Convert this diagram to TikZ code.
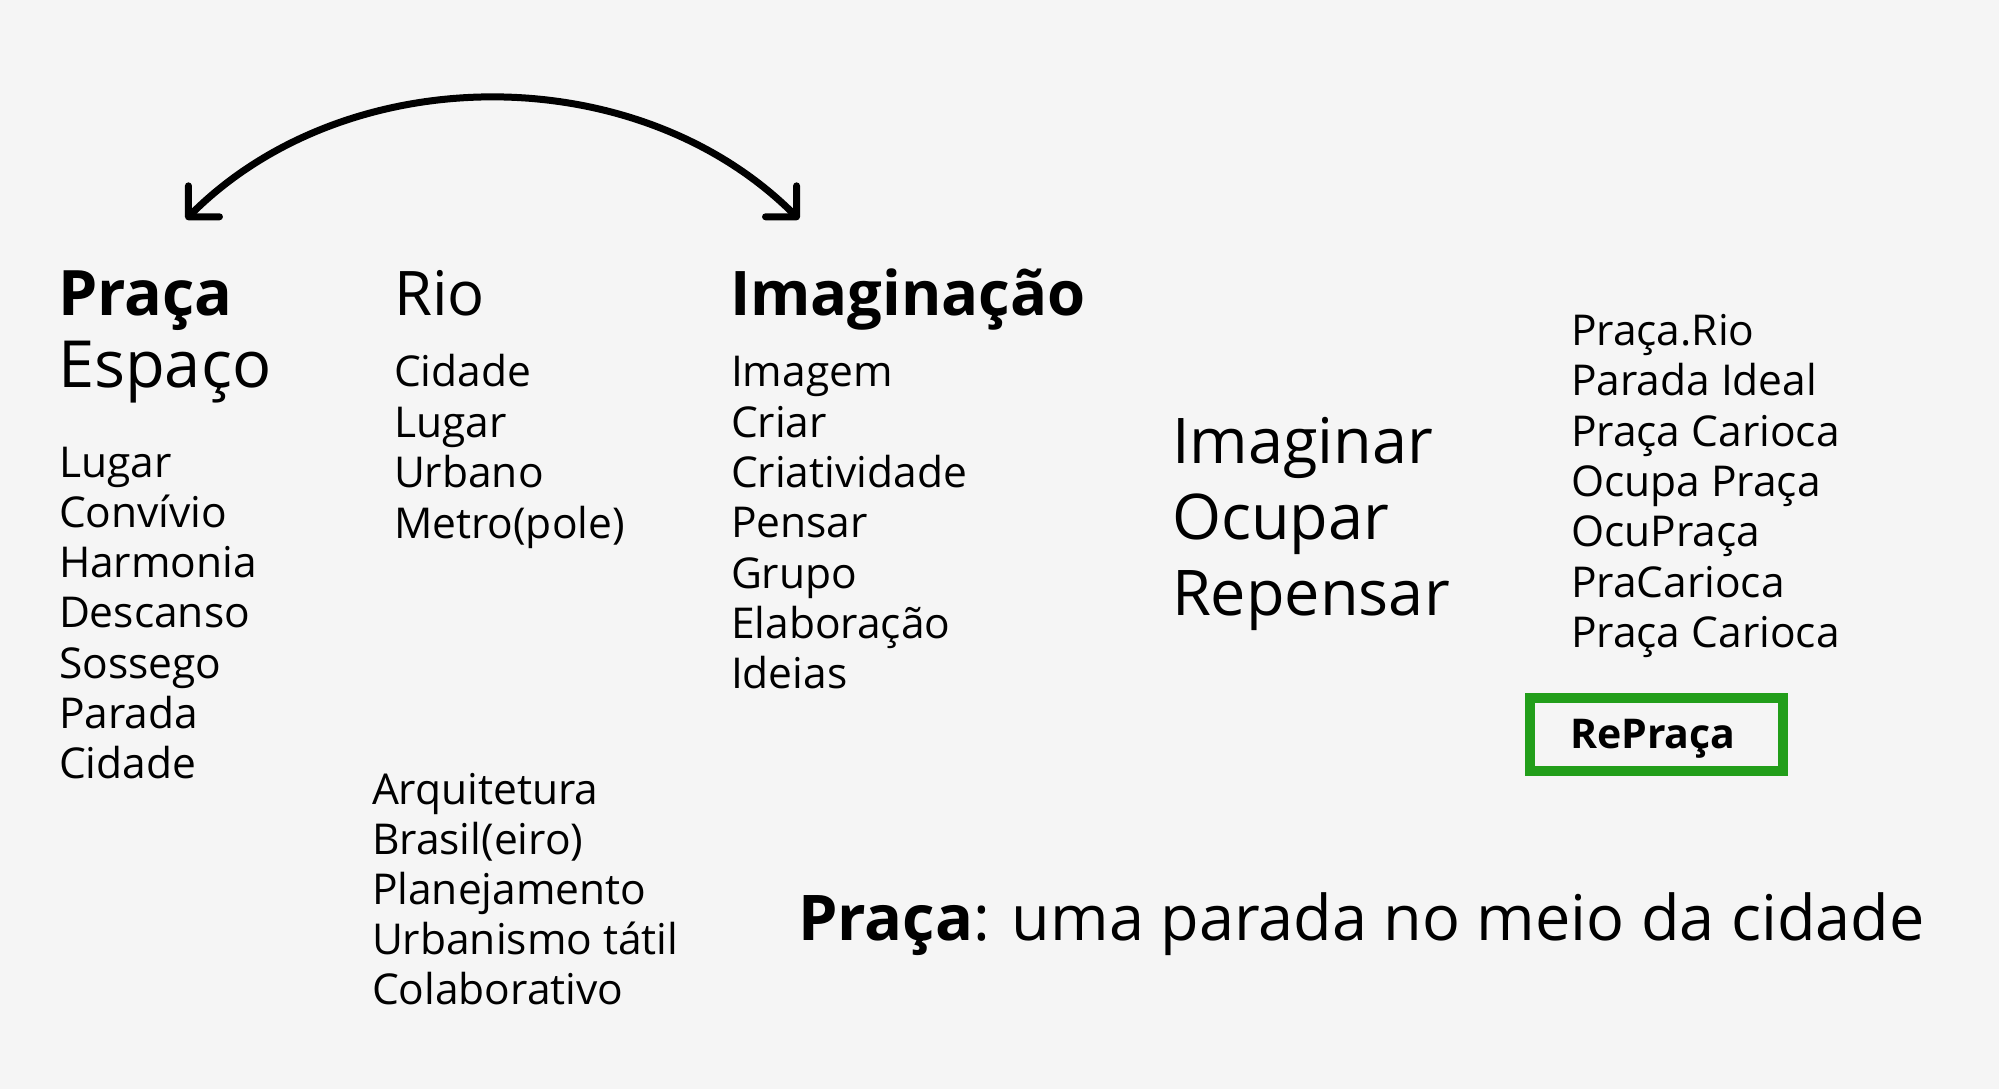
\documentclass[tikz,border=0pt]{standalone}
\usepackage{fontspec}
\setmainfont{Open Sans}
\usetikzlibrary{arrows.meta}
\definecolor{bg}{HTML}{F5F5F5}
\definecolor{boxgreen}{HTML}{229E1A}
\begin{document}
\begin{tikzpicture}[x=1pt,y=-1pt,
  word/.style={anchor=base west, inner sep=0pt, outer sep=0pt, text=black},
  lst/.style={word, font=\fontsize{42.5}{50}\selectfont},
  lstbold/.style={word, font=\bfseries\fontsize{41}{48}\selectfont},
  head/.style={word, font=\fontsize{65}{76}\selectfont},
  headbold/.style={word, font=\bfseries\fontsize{62.7}{74}\selectfont},
  title/.style={word, font=\fontsize{61.5}{74}\selectfont},
  titlebold/.style={word, font=\bfseries\fontsize{61.5}{74}\selectfont},
  verb/.style={word, font=\fontsize{63}{76}\selectfont},
  tagline/.style={word, font=\fontsize{63}{76}\selectfont},
  swingtip/.tip={Straight Barb[angle=90:31pt, round]},
  swing/.style={line width=7pt, swingtip-swingtip},
  greenbox/.style={draw=boxgreen, line width=10pt, inner sep=0pt, minimum width=253.3pt, minimum height=72.7pt}
]
\fill[bg] (0,0) rectangle (1999,1089);
\useasboundingbox (0,0) rectangle (1999,1089);

% curved double arrow
\coordinate (al) at (186,219.3);
\coordinate (ar) at (799,219.3);
\coordinate (c1) at (347.3,57.7);
\coordinate (c2) at (637.7,57.7);
\draw[swing] (al) .. controls (c1) and (c2) .. (ar);

% column 1
\node[headbold] (praca) at (58,315) {Praça};
\node[head] (espaco) at (58,387) {Espaço};
\foreach \t [count=\i] in {Lugar,Convívio,Harmonia,Descanso,Sossego,Parada,Cidade}
  \node[lst] (pl\i) at (59,{477+50.3*(\i-1)}) {\t};

% column 2
\node[title] (rio) at (394,315) {Rio};
\foreach \t [count=\i] in {Cidade,Lugar,Urbano,Metro(pole)}
  \node[lst] (rl\i) at (394,{386.7+50.5*(\i-1)}) {\t};
\foreach \t [count=\i] in {Arquitetura,Brasil(eiro),Planejamento,Urbanismo tátil,Colaborativo}
  \node[lst] (bl\i) at (372,{804+50.1*(\i-1)}) {\t};

% column 3
\node[titlebold] (imag) at (730,315) {Imaginação};
\foreach \t [count=\i] in {Imagem,Criar,Criatividade,Pensar,Grupo,Elaboração,Ideias}
  \node[lst] (il\i) at (731,{386.7+50.38*(\i-1)}) {\t};

% verbs
\node[verb] (v1) at (1172,463) {Imaginar};
\node[verb] (v2) at (1172,539) {Ocupar};
\node[verb] (v3) at (1172,615) {Repensar};

% names
\foreach \t [count=\i] in {Praça.Rio,Parada Ideal,Praça Carioca,Ocupa Praça,OcuPraça,PraCarioca,Praça Carioca}
  \node[lst] (nl\i) at (1571,{345.6+50.28*(\i-1)}) {\t};

\node[greenbox] (rpbox) at (1656.7,734.6) {};
\node[lstbold] (rp) at (1570,748.3) {RePraça};

% tagline
\node[tagline] (tag) at (798,940) {\textbf{Praça}: uma parada no meio da cidade};
\end{tikzpicture}
\end{document}
